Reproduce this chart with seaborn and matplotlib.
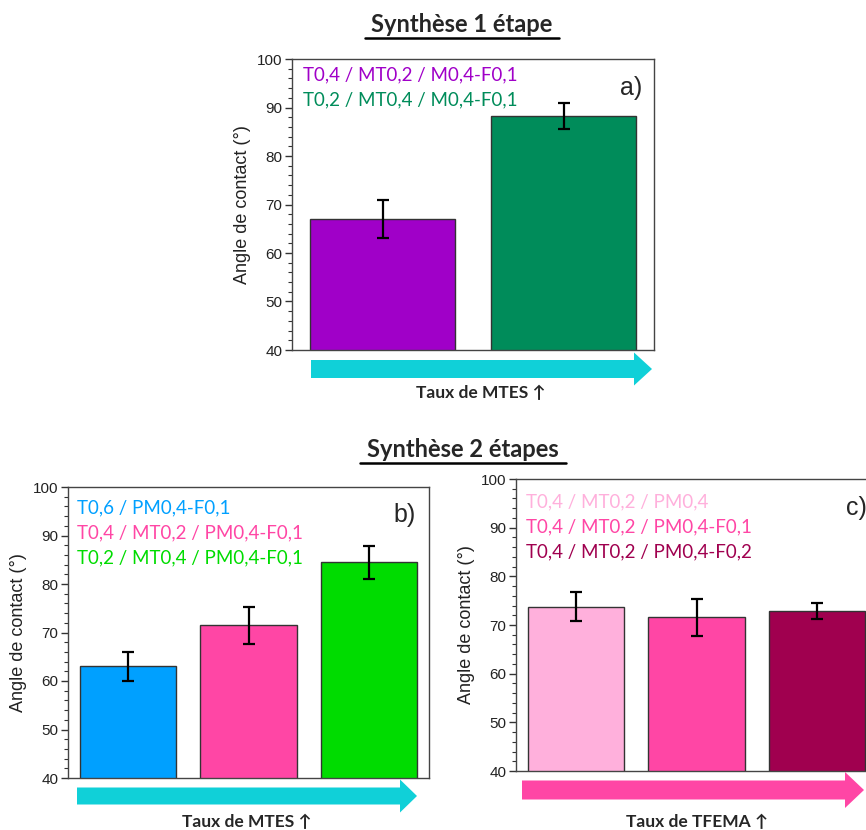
import matplotlib
matplotlib.use("Agg")
import matplotlib.pyplot as plt
import matplotlib.patches as mpatches
from matplotlib.ticker import MultipleLocator
import pandas as pd
import seaborn as sns

# data (contact angle in degrees)
labels_a = ["T0,4 / MT0,2 / M0,4-F0,1", "T0,2 / MT0,4 / M0,4-F0,1"]
angle_a = [67.0, 88.2]
err_a = [4.0, 2.7]
colors_a = ["#A000C8", "#008C5A"]

labels_b = ["T0,6 / PM0,4-F0,1", "T0,4 / MT0,2 / PM0,4-F0,1", "T0,2 / MT0,4 / PM0,4-F0,1"]
angle_b = [63.0, 71.5, 84.5]
err_b = [2.9, 3.8, 3.4]
colors_b = ["#00A0FF", "#FF46A5", "#00DC00"]

labels_c = ["T0,4 / MT0,2 / PM0,4", "T0,4 / MT0,2 / PM0,4-F0,1", "T0,4 / MT0,2 / PM0,4-F0,2"]
angle_c = [73.8, 71.6, 72.9]
err_c = [2.9, 3.8, 1.6]
colors_c = ["#FFB0DC", "#FF46A5", "#A0004F"]

sns.set_style("white")
plt.rcParams["font.family"] = ["Liberation Sans", "DejaVu Sans"]

W, H = 866, 830
fig = plt.figure(figsize=(W / 100, H / 100), dpi=100)
CAL = ["Lato", "DejaVu Sans"]


def px(x, y):
    return x / W, 1 - y / H


def make_panel(rect, labels, vals, errs, colors, tag, leg_xy, tag_xy):
    l, t, r, b = rect
    ax = fig.add_axes([l / W, 1 - b / H, (r - l) / W, (b - t) / H])
    df = pd.DataFrame({"label": labels, "angle": vals})
    sns.barplot(data=df, x="label", y="angle", hue="label", palette=colors,
                order=labels, hue_order=labels, legend=False, errorbar=None,
                width=0.8, edgecolor="#333333", linewidth=1.0, saturation=1, ax=ax)
    ax.errorbar(range(len(vals)), vals, yerr=errs, fmt="none", ecolor="black",
                elinewidth=1.6, capsize=4, capthick=1.6)
    ax.set_ylim(40, 100)
    ax.set_xlim(-0.5, len(vals) - 0.5)
    ax.yaxis.set_major_locator(MultipleLocator(10))
    ax.yaxis.set_minor_locator(MultipleLocator(2))
    ax.tick_params(axis="y", which="major", left=True, length=5, width=1,
                   direction="out", labelsize=11, pad=2, color="#333333",
                   labelcolor="#222222")
    ax.tick_params(axis="y", which="minor", left=True, length=3, width=0.8,
                   direction="out", color="#333333")
    ax.tick_params(axis="x", bottom=False, labelbottom=False)
    ax.set_xlabel("")
    ax.set_ylabel("Angle de contact (°)", fontsize=13, labelpad=4, color="#222222")
    for s in ax.spines.values():
        s.set_color("#444444")
        s.set_linewidth(1.0)
    lx, ly = leg_xy
    for i, (lab, c) in enumerate(zip(labels, colors)):
        fig.text(*px(lx, ly + i * 25), lab, color=c, fontsize=13.5,
                 family=CAL, va="center", ha="left")
    fig.text(*px(*tag_xy), tag, fontsize=18, va="center", ha="center")
    return ax


def arrow(x0, x1, yc, body_h, head_h, head_len, color):
    fx0, fy = px(x0, yc)
    arr = mpatches.FancyArrow(fx0, fy, (x1 - x0) / W, 0, width=body_h / H,
                              head_width=head_h / H, head_length=head_len / W,
                              length_includes_head=True, color=color,
                              transform=fig.transFigure, linewidth=0)
    fig.patches.append(arr)


def title(text, xc, yc, x0, x1, yline):
    fig.text(*px(xc, yc), text, fontsize=17, fontweight="bold", family=CAL,
             ha="center", va="center")
    fig.add_artist(plt.Line2D([x0 / W, x1 / W], [1 - yline / H, 1 - yline / H],
                              color="black", linewidth=1.8, transform=fig.transFigure))


make_panel((292, 59, 654, 350), labels_a, angle_a, err_a, colors_a, "a)",
           (303, 75), (631, 88))
make_panel((68, 487, 429, 778), labels_b, angle_b, err_b, colors_b, "b)",
           (77, 508), (405, 515))
make_panel((516, 479, 877, 771), labels_c, angle_c, err_c, colors_c, "c)",
           (526, 502), (856, 508))

arrow(311, 652, 369, 18, 33, 18, "#10D0D8")
arrow(77, 417, 796, 17, 33, 17, "#10D0D8")
arrow(522, 864, 790, 19, 36, 19, "#FF46A5")

for xc, yc, txt in [(481, 393, "Taux de MTES ↑"), (247, 822, "Taux de MTES ↑"),
                    (697, 822, "Taux de TFEMA ↑")]:
    fig.text(*px(xc, yc), txt, fontsize=12.5, fontweight="bold", family=CAL,
             ha="center", va="center")

title("Synthèse 1 étape", 462, 24, 365, 559, 38)
title("Synthèse 2 étapes", 463, 449, 360, 566, 463)

fig.savefig("out.png", dpi=100)
